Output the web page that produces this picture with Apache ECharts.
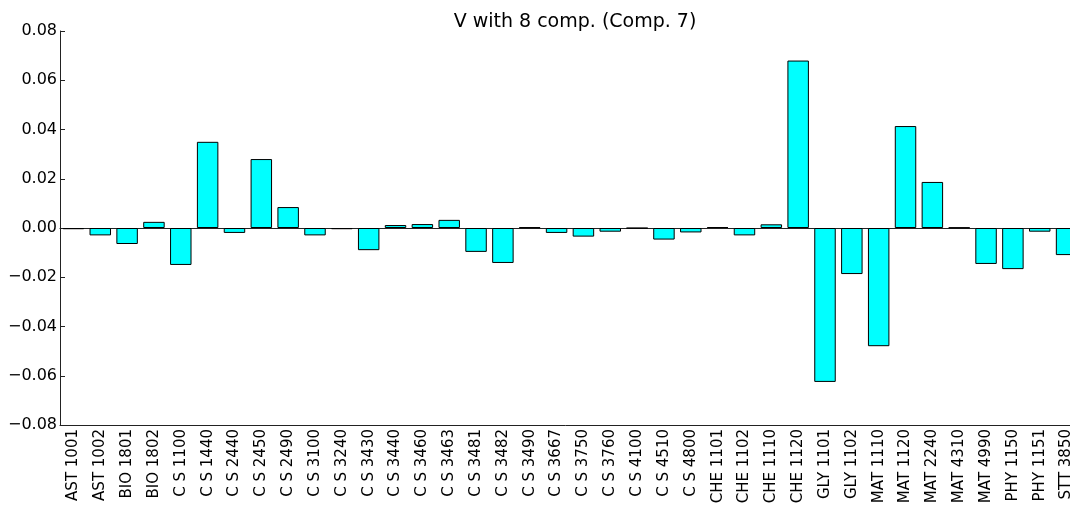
<!DOCTYPE html>
<html>
<head>
<meta charset="utf-8">
<script src="https://cdn.jsdelivr.net/npm/echarts@6/dist/echarts.min.js"></script>
<style>
    html, body { margin: 0; padding: 0; background: #fff; overflow: hidden; }
    #chart { width: 1070px; height: 505px; }
</style>
</head>
<body>
<div id="chart"></div>
<script>
    // 课程类别
    var courses = ['AST 1001', 'AST 1002', 'BIO 1801', 'BIO 1802', 'C S 1100', 'C S 1440', 'C S 2440',
        'C S 2450', 'C S 2490', 'C S 3100', 'C S 3240', 'C S 3430', 'C S 3440', 'C S 3460', 'C S 3463',
        'C S 3481', 'C S 3482', 'C S 3490', 'C S 3667', 'C S 3750', 'C S 3760', 'C S 4100', 'C S 4510',
        'C S 4800', 'CHE 1101', 'CHE 1102', 'CHE 1110', 'CHE 1120', 'GLY 1101', 'GLY 1102', 'MAT 1110',
        'MAT 1120', 'MAT 2240', 'MAT 4310', 'MAT 4990', 'PHY 1150', 'PHY 1151', 'STT 3850'];
    // Comp. 7 的取值
    var comp7 = [-0.0005, -0.003, -0.0065, 0.0025, -0.015, 0.035, -0.002,
        0.028, 0.0085, -0.003, -0.0005, -0.009, 0.0012, 0.0016, 0.0033,
        -0.0097, -0.0142, 0.0003, -0.002, -0.0035, -0.0015, -0.0001, -0.0047,
        -0.0018, 0.0004, -0.003, 0.0015, 0.068, -0.0625, -0.0187, -0.048,
        0.0414, 0.0187, 0.0002, -0.0146, -0.0167, -0.0015, -0.011];
    var yMin = -0.08, yMax = 0.08, yStep = 0.02;

    var font = 'DejaVu Sans';
    var axisColor = '#222';
    function fmtY(v){
        // 用真正的减号
        return v.toFixed(2).replace('-', '\u2212');
    }

    var myChart = echarts.init(document.getElementById('chart'));
    var option = {
        animation: false,
        title: {
            text: 'V with 8 comp. (Comp. 7)',
            left: 570,
            textAlign: 'center',
            top: 8,
            textStyle: { fontFamily: font, fontSize: 19, fontWeight: 'normal', color: '#000' }
        },
        // 右边超出画面，和原图一样
        grid: { left: 60, right: -10, top: 31, bottom: 80, outerBoundsMode: 'none', containLabel: false },
        xAxis: [{
            type: 'category',
            data: courses,
            axisLine: { onZero: false, lineStyle: { color: axisColor, width: 1 } },
            axisTick: { inside: true, length: 5, alignWithLabel: true, lineStyle: { color: axisColor } },
            axisLabel: { rotate: 90, interval: 0, margin: 4, fontFamily: font, fontSize: 15, color: '#000' },
            splitLine: { show: false }
        }, {
            type: 'category',
            data: courses,
            position: 'top',
            axisLine: { lineStyle: { color: axisColor, width: 1 } },
            axisTick: { inside: true, length: 5, alignWithLabel: true, lineStyle: { color: axisColor } },
            axisLabel: { show: false },
            splitLine: { show: false }
        }],
        yAxis: [{
            type: 'value',
            min: yMin, max: yMax, interval: yStep,
            axisLine: { show: true, lineStyle: { color: axisColor, width: 1 } },
            axisTick: { show: true, inside: true, length: 5, lineStyle: { color: axisColor } },
            axisLabel: { formatter: fmtY, margin: 3, fontFamily: font, fontSize: 16, color: '#000' },
            splitLine: { show: false }
        }, {
            type: 'value',
            position: 'right',
            min: yMin, max: yMax, interval: yStep,
            axisLine: { show: true, lineStyle: { color: axisColor, width: 1 } },
            axisTick: { show: true, inside: true, length: 5, lineStyle: { color: axisColor } },
            axisLabel: { show: false },
            splitLine: { show: false }
        }],
        series: [{
            name: 'Comp. 7',
            type: 'bar',
            data: comp7,
            barCategoryGap: '20%',
            itemStyle: { color: '#00ffff', borderColor: '#000', borderWidth: 1 }
        }]
    };
    myChart.setOption(option);
</script>
</body>
</html>
